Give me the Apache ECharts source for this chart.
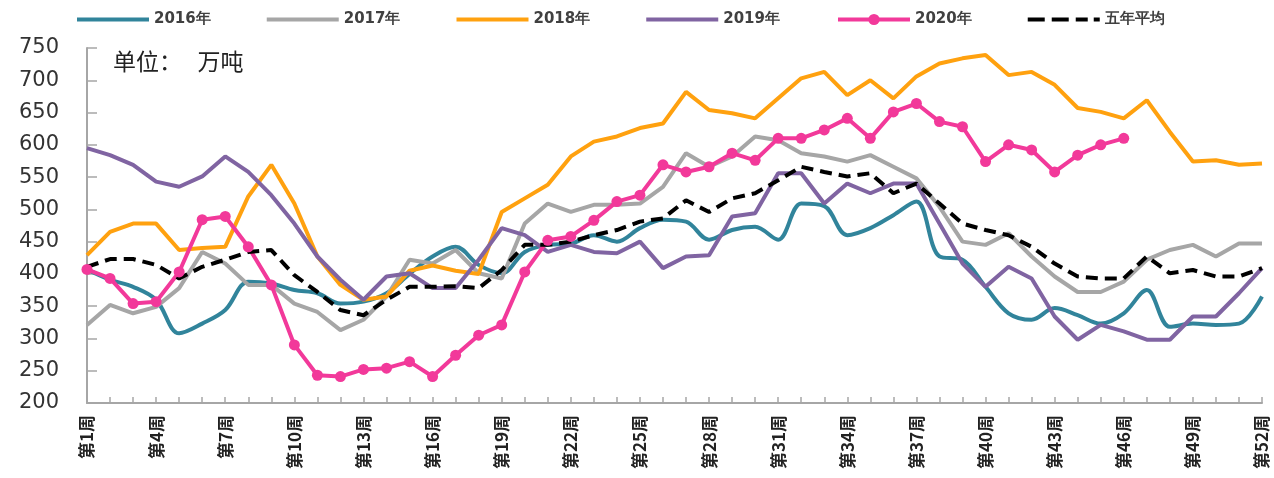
<!DOCTYPE html>
<html>
<head>
<meta charset="utf-8">
<script src="https://cdn.jsdelivr.net/npm/echarts@6/dist/echarts.min.js"></script>
<style>
  html, body { margin: 0; padding: 0; background: #ffffff; }
  #chart { width: 1274px; height: 478px; }
</style>
</head>
<body>
<div id="chart"></div>
<script>
const weeks = []
for (let i = 1; i <= 52; i++) weeks.push('第' + i + '周')

const legendNames = ['2016年', '2017年', '2018年', '2019年', '2020年', '五年平均']

const y2016 = [407, 391, 380, 360, 308, 323, 344, 388, 385, 375, 370, 354, 357, 370, 400, 427, 442, 414, 401, 434,
  445, 447, 460, 450, 471, 484, 481, 453, 468, 473, 453, 509, 505, 460, 471, 491, 512, 427, 422, 380,
  339, 329, 347, 336, 323, 339, 375, 318, 323, 321, 323, 365]
const y2017 = [321, 352, 339, 349, 378, 434, 416, 383, 383, 354, 341, 313, 329, 365, 422, 416, 437, 401, 393, 478,
  509, 496, 507, 507, 509, 535, 587, 566, 582, 613, 607, 587, 582, 574, 584, 566, 548, 504, 450, 445,
  463, 427, 396, 372, 372, 388, 422, 437, 445, 427, 447, 447]
const y2018 = [429, 465, 478, 478, 437, 440, 442, 520, 569, 509, 427, 383, 360, 365, 405, 413, 405, 400, 496, 517,
  538, 582, 605, 613, 626, 633, 682, 654, 649, 641, 672, 703, 713, 677, 700, 672, 706, 726, 734, 739,
  708, 713, 693, 657, 651, 641, 669, 620, 574, 576, 569, 571]
const y2019 = [595, 584, 569, 543, 535, 551, 582, 558, 522, 478, 427, 391, 360, 396, 401, 378, 378, 422, 471, 460,
  434, 445, 434, 432, 450, 409, 427, 429, 489, 494, 556, 556, 509, 540, 525, 540, 540, 478, 416, 380,
  411, 393, 334, 298, 321, 311, 298, 298, 334, 334, 370, 409]
const y2020 = [407, 393, 354, 357, 403, 484, 489, 442, 383, 290, 243, 241, 252, 254, 264, 241, 274, 305, 321, 403,
  452, 458, 483, 512, 522, 569, 558, 566, 587, 576, 610, 610, 623, 641, 610, 651, 664, 636, 628, 574,
  600, 592, 558, 584, 600, 610]
const yAvg = [411, 423, 423, 414, 393, 411, 422, 434, 437, 398, 372, 344, 336, 360, 380, 380, 381, 378, 406, 445,
  445, 450, 460, 468, 481, 486, 514, 496, 517, 525, 545, 566, 558, 551, 556, 525, 540, 509, 478, 468,
  460, 442, 416, 396, 393, 393, 427, 401, 406, 396, 396, 409]

const lineColors = ['#31849B', '#A6A6A6', '#FFA10F', '#8064A2', '#F2399A', '#000000']
const axisColor = '#A6A6A6'

// 图例图标：实线 / 虚线
const solidIcon = 'path://M0,0 L72,0 L72,4 L0,4 Z'
const dashIcon = 'path://M0,0h17v4h-17z M24,0h17v4h-17z M48,0h12v4h-12z M66,0h6v4h-6z'

const chart = echarts.init(document.getElementById('chart'))

function plainLine (name, data, color, smooth) {
  return {
    name: name,
    type: 'line',
    data: data,
    smooth: smooth || false,
    symbol: 'none',
    lineStyle: { color: color, width: 4 },
    itemStyle: { color: color }
  }
}

const option = {
  animation: false,
  backgroundColor: '#ffffff',
  title: {
    text: '单位：   万吨',
    left: 108,
    top: 45,
    textStyle: {
      fontFamily: 'Noto Sans CJK SC',
      fontSize: 23,
      fontWeight: 'normal',
      color: '#222222'
    }
  },
  legend: {
    data: legendNames.map((name, i) => {
      if (i === 4) return { name: name, lineStyle: { width: 4 } }
      return { name: name, icon: i === 5 ? dashIcon : solidIcon }
    }),
    left: 72,
    top: 7,
    itemWidth: 72,
    itemHeight: 14,
    itemGap: 56,
    symbolKeepAspect: true,
    textStyle: {
      fontFamily: 'DejaVu Sans',
      fontSize: 15,
      fontWeight: 'bold',
      color: '#404040'
    }
  },
  grid: {
    left: 87,
    right: 12,
    top: 48,
    bottom: 75
  },
  xAxis: {
    type: 'category',
    data: weeks,
    boundaryGap: false,
    axisLine: { lineStyle: { color: axisColor, width: 2 } },
    axisTick: {
      inside: true,
      length: 6,
      interval: 0,
      lineStyle: { color: axisColor, width: 1.5 }
    },
    axisLabel: {
      interval: 2,
      rotate: 90,
      margin: 12,
      fontFamily: 'Noto Sans CJK SC',
      fontSize: 17,
      fontWeight: 'bold',
      color: '#222222'
    }
  },
  yAxis: {
    type: 'value',
    min: 200,
    max: 750,
    interval: 50,
    splitLine: { show: false },
    axisLine: { show: true, lineStyle: { color: axisColor, width: 2 } },
    axisTick: {
      show: true,
      inside: true,
      length: 10,
      lineStyle: { color: axisColor, width: 1.5 }
    },
    axisLabel: {
      margin: 28,
      fontFamily: 'DejaVu Sans',
      fontSize: 21,
      color: '#333333'
    }
  },
  series: [
    plainLine('2016年', y2016, lineColors[0], 0.35),
    plainLine('2017年', y2017, lineColors[1]),
    plainLine('2018年', y2018, lineColors[2]),
    plainLine('2019年', y2019, lineColors[3]),
    {
      name: '2020年',
      type: 'line',
      data: y2020,
      symbol: 'circle',
      symbolSize: 11,
      lineStyle: { color: lineColors[4], width: 4 },
      itemStyle: { color: lineColors[4] }
    },
    {
      name: '五年平均',
      type: 'line',
      data: yAvg,
      symbol: 'none',
      lineStyle: { color: lineColors[5], width: 4, type: [12, 7] },
      itemStyle: { color: lineColors[5] }
    }
  ]
}

chart.setOption(option)
</script>
</body>
</html>
